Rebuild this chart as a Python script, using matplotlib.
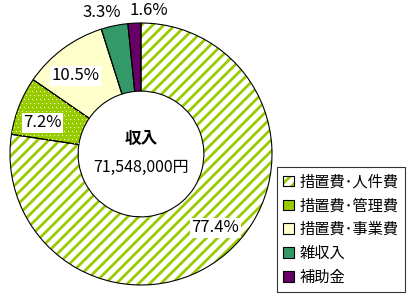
import numpy as np
import matplotlib.pyplot as plt
from matplotlib.patches import Patch

plt.rcParams['font.family'] = ['Noto Sans CJK JP', 'DejaVu Sans']
plt.rcParams['hatch.linewidth'] = 2.0

categories = ['措置費･人件費', '措置費･管理費', '措置費･事業費', '雑収入', '補助金']
shares = [77.4, 7.2, 10.5, 3.3, 1.6]
labels = ['77.4%', '7.2%', '10.5%', '3.3%', '1.6%']
center_title = '収入'
center_total = '71,548,000円'

faces = ['white', '#99CC00', '#FFFFCC', '#339966', '#660066']
# label radius (fraction of outer radius) and angle nudge in degrees
label_r = [0.80, 0.79, 0.78, 1.12, 1.10]
label_nudge = [4.5, 4, 3.5, 4, -6]
label_box = [True, True, True, False, False]

W, H = 410, 299
fig = plt.figure(figsize=(W / 100, H / 100), dpi=100)
ax = fig.add_axes([0, 0, 1, 1])

cx, cy = 141, 145
R = 131
ring = 0.52

wedges, _ = ax.pie(shares, startangle=90, counterclock=False, radius=R,
                   center=(cx, cy), frame=True, colors=faces,
                   wedgeprops=dict(width=R * ring, linewidth=0))
# diagonal stripes on the first slice
wedges[0].set_hatch('///')
wedges[0].set_edgecolor('#99CC00')

# small white dots on the second slice
gx, gy = np.meshgrid(np.arange(0, W, 4), np.arange(0, H, 4))
gx = gx + (gy // 4 % 2) * 2
dots = ax.scatter(gx.ravel(), gy.ravel(), s=0.6, c='white', linewidths=0,
                  zorder=wedges[1].get_zorder() + 0.1)
dots.set_clip_path(wedges[1])

# black outlines on top
ax.pie(shares, startangle=90, counterclock=False, radius=R, center=(cx, cy),
       frame=True, wedgeprops=dict(width=R * ring, facecolor='none',
                                   edgecolor='black', linewidth=0.8))
ax.set_xlim(0, W)
ax.set_ylim(0, H)
ax.set_aspect('equal')
ax.axis('off')

for w, lab, r, nud, box in zip(wedges, labels, label_r, label_nudge, label_box):
    mid = np.deg2rad((w.theta1 + w.theta2) / 2 + nud)
    x = cx + R * r * np.cos(mid)
    y = cy + R * r * np.sin(mid)
    bbox = dict(facecolor='white', edgecolor='none', pad=1) if box else None
    ax.text(x, y, lab, ha='center', va='center', fontsize=12, bbox=bbox,
            zorder=5)

ax.text(cx, cy + 15, center_title, ha='center', va='center', fontsize=12,
        fontweight='bold')
ax.text(cx, cy - 13, center_total, ha='center', va='center', fontsize=11.5)

handles = []
for i, fc in enumerate(faces):
    if i == 0:
        fill = Patch(facecolor='white', edgecolor='#99CC00', hatch='///',
                     linewidth=0)
    else:
        fill = Patch(facecolor=fc, linewidth=0)
    outline = Patch(facecolor='none', edgecolor='black', linewidth=0.8)
    handles.append((fill, outline))
leg = ax.legend(handles, categories, loc='lower right',
                bbox_to_anchor=(405 / W, 7 / H), fontsize=11, frameon=True,
                fancybox=False, edgecolor='black', handlelength=0.7,
                handleheight=0.7, handletextpad=0.4, labelspacing=0.45,
                borderpad=0.4, borderaxespad=0)
leg.get_frame().set_linewidth(0.8)

fig.savefig('out.png', dpi=100)
